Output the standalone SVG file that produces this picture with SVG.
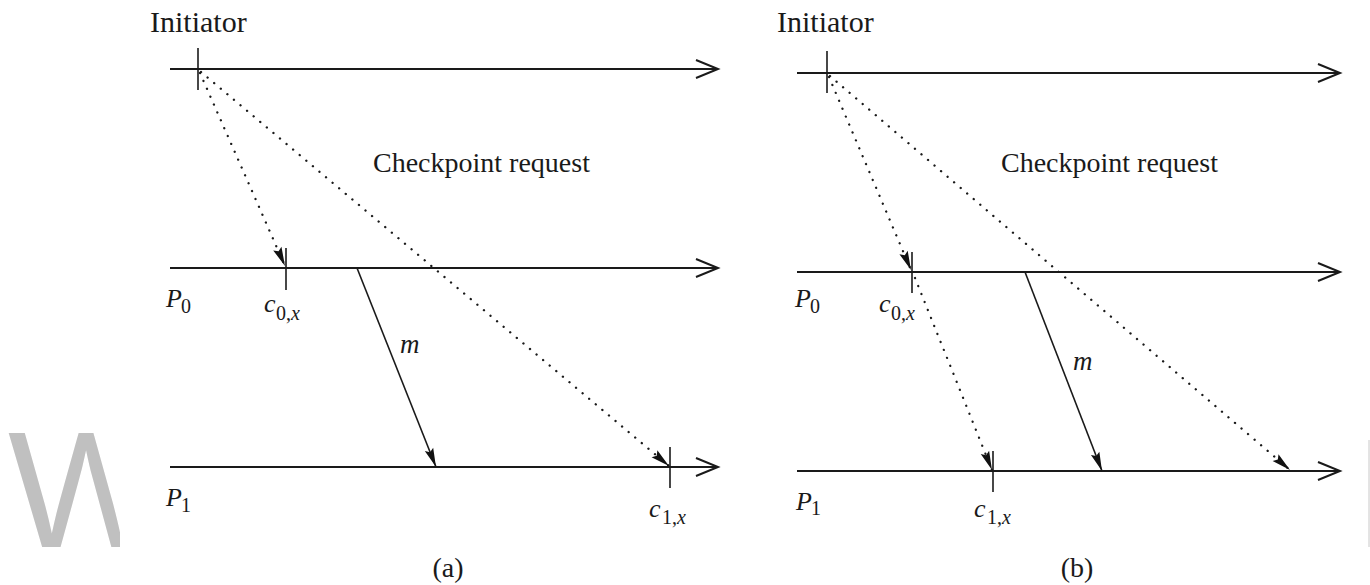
<svg xmlns="http://www.w3.org/2000/svg" width="1370" height="585" viewBox="0 0 1370 585">
<defs>
<style>
.axis{stroke:#1a1a1a;stroke-width:2;fill:none}
.tick{stroke:#1a1a1a;stroke-width:1.6;fill:none}
.msg{stroke:#1a1a1a;stroke-width:1.6;fill:none}
.dot{stroke:#1a1a1a;stroke-width:2.3;fill:none;stroke-dasharray:0.1 8.5;stroke-linecap:round}
.t{font-family:"Liberation Serif","Times New Roman",serif;fill:#1a1a1a}
.i{font-style:italic}
.wm{font-family:"Liberation Sans",Arial,sans-serif;fill:#c0c0c0}
</style>
<marker id="open" markerUnits="userSpaceOnUse" markerWidth="26" markerHeight="22" refX="22" refY="10" orient="auto" overflow="visible">
<path d="M0,1 L22,10 L0,19" fill="none" stroke="#1a1a1a" stroke-width="2"/>
</marker>
<marker id="solid" markerUnits="userSpaceOnUse" markerWidth="20" markerHeight="10" refX="19" refY="4.5" orient="auto" overflow="visible">
<path d="M0,0 L19,4.5 L0,9 L3,4.5 z" fill="#111" stroke="none"/>
</marker>
<clipPath id="wmclip"><rect x="0" y="400" width="120" height="160"/></clipPath>
</defs>
<rect width="1370" height="585" fill="#fff"/>

<g id="watermark">
<text class="wm" x="8" y="547" font-size="165" clip-path="url(#wmclip)">W</text>
<line x1="1369" y1="440" x2="1369" y2="547" stroke="#c8c8c8" stroke-width="1"/>
</g>

<g id="panel-a">
<g id="a-initiator">
<text class="t" x="150" y="32" font-size="30">Initiator</text>
<line class="axis" x1="170" y1="69" x2="718" y2="69" marker-end="url(#open)"/>
<line class="tick" x1="198" y1="48" x2="198" y2="90"/>
</g>
<g id="a-p0">
<line class="axis" x1="170" y1="268" x2="718" y2="268" marker-end="url(#open)"/>
<line class="tick" x1="286" y1="248" x2="286" y2="290"/>
<text class="t i" x="166" y="307" font-size="26">P</text>
<text class="t" x="181" y="313" font-size="20">0</text>
<text class="t i" x="264" y="312" font-size="26">c</text>
<text class="t" x="276" y="320" font-size="20">0,<tspan class="i">x</tspan></text>
</g>
<g id="a-p1">
<line class="axis" x1="170" y1="467" x2="718" y2="467" marker-end="url(#open)"/>
<line class="tick" x1="670" y1="447" x2="670" y2="488"/>
<text class="t i" x="166" y="506" font-size="26">P</text>
<text class="t" x="181" y="512" font-size="20">1</text>
<text class="t i" x="649" y="517" font-size="26">c</text>
<text class="t" x="662" y="524" font-size="20">1,<tspan class="i">x</tspan></text>
</g>
<text class="t" x="373" y="172" font-size="28">Checkpoint request</text>
<text class="t" x="448" y="577" font-size="28" text-anchor="middle">(a)</text>
<text class="t i" x="400" y="353" font-size="27">m</text>
<g id="a-connectors">
<line class="dot" x1="200" y1="73" x2="285" y2="266" marker-end="url(#solid)"/>
<line class="dot" x1="201" y1="72" x2="669" y2="466" marker-end="url(#solid)"/>
<line class="msg" x1="357" y1="268" x2="436" y2="467" marker-end="url(#solid)"/>
</g>
</g>

<g id="panel-b">
<g id="b-initiator">
<text class="t" x="777" y="32" font-size="30">Initiator</text>
<line class="axis" x1="797" y1="73" x2="1340" y2="73" marker-end="url(#open)"/>
<line class="tick" x1="827" y1="51" x2="827" y2="93"/>
</g>
<g id="b-p0">
<line class="axis" x1="797" y1="272" x2="1340" y2="272" marker-end="url(#open)"/>
<line class="tick" x1="912" y1="252" x2="912" y2="293"/>
<text class="t i" x="795" y="307" font-size="26">P</text>
<text class="t" x="810" y="313" font-size="20">0</text>
<text class="t i" x="879" y="312" font-size="26">c</text>
<text class="t" x="891" y="320" font-size="20">0,<tspan class="i">x</tspan></text>
</g>
<g id="b-p1">
<line class="axis" x1="797" y1="471" x2="1340" y2="471" marker-end="url(#open)"/>
<line class="tick" x1="993" y1="451" x2="993" y2="492"/>
<text class="t i" x="796" y="510" font-size="26">P</text>
<text class="t" x="811" y="515" font-size="20">1</text>
<text class="t i" x="974" y="517" font-size="26">c</text>
<text class="t" x="987" y="524" font-size="20">1,<tspan class="i">x</tspan></text>
</g>
<text class="t" x="1001" y="172" font-size="28">Checkpoint request</text>
<text class="t" x="1077" y="577" font-size="28" text-anchor="middle">(b)</text>
<text class="t i" x="1073" y="370" font-size="27">m</text>
<g id="b-connectors">
<line class="dot" x1="829" y1="77" x2="911" y2="270" marker-end="url(#solid)"/>
<line class="dot" x1="915" y1="278" x2="992" y2="470" marker-end="url(#solid)"/>
<line class="dot" x1="830" y1="76" x2="1290" y2="470" marker-end="url(#solid)"/>
<line class="msg" x1="1025" y1="272" x2="1102" y2="471" marker-end="url(#solid)"/>
</g>
</g>
</svg>
